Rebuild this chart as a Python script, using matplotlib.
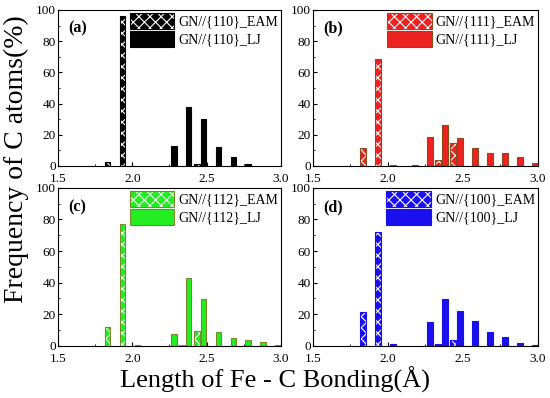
import matplotlib
matplotlib.use('Agg')
import matplotlib.pyplot as plt
from matplotlib.ticker import MultipleLocator
from matplotlib.patches import Patch
import numpy as np

plt.rcParams.update({'font.family': 'serif',
                     'font.serif': ['Liberation Serif', 'DejaVu Serif'],
                     'hatch.linewidth': 0.8})

# bin centres of the bond length histogram (Angstrom)
bins = [1.85, 1.95, 2.05, 2.15, 2.25, 2.35, 2.45, 2.55, 2.65, 2.75, 2.85, 2.95]

eam_110 = [2.6, 96, 0, 0, 0, 0, 1.5, 0, 0, 0, 0, 0]
lj_110 = [0, 0, 0, 0, 12.8, 38, 30, 12, 6, 1.3, 0, 0]

eam_111 = [11.8, 68.4, 0.5, 0, 0, 3.8, 14.5, 0, 0, 0, 0, 0]
lj_111 = [0, 0, 0, 0.5, 18.8, 26, 18, 11.3, 8.5, 8.1, 6, 2]

eam_112 = [12, 77.3, 0.5, 0, 0, 0.5, 9.1, 0, 0, 0, 0, 0]
lj_112 = [0, 0, 0, 0, 7.8, 42.8, 29.4, 8.9, 4.7, 3.4, 2.3, 0.3]

eam_100 = [21.2, 72.2, 1, 0, 0, 1, 3.6, 0, 0, 0, 0, 0]
lj_100 = [0, 0, 0, 0, 15.3, 29.4, 22.2, 15.7, 8.5, 5.3, 2.1, 0.3]

panels = [
    ('(a)', '{110}', eam_110, lj_110, '#000000', '#000000'),
    ('(b)', '{111}', eam_111, lj_111, '#ee2222', '#8a4a1c'),
    ('(c)', '{112}', eam_112, lj_112, '#22ee22', '#7a8a2a'),
    ('(d)', '{100}', eam_100, lj_100, '#1a10ee', '#1a10ee'),
]

# axes boxes [left, bottom, width, height] in figure fractions
boxes = [
    [0.1055, 0.583, 0.405, 0.392],
    [0.569, 0.583, 0.409, 0.392],
    [0.1055, 0.131, 0.405, 0.397],
    [0.569, 0.131, 0.409, 0.397],
]

fig = plt.figure(figsize=(5.5, 3.98), dpi=100)
w = 0.036

for (tag, plane, eam, lj, fc, ec), box in zip(panels, boxes):
    ax = fig.add_axes(box)
    x = np.array(bins)
    eam = np.array(eam, dtype=float)
    lj = np.array(lj, dtype=float)
    m1 = eam > 0
    m2 = lj > 0

    ax.bar(x[m1] - 0.015, eam[m1], width=w, color=fc, edgecolor='white',
           hatch='xxx', linewidth=0, zorder=2)
    ax.bar(x[m1] - 0.015, eam[m1], width=w, fill=False, edgecolor=ec,
           linewidth=0.8, zorder=3)
    ax.bar(x[m2] + 0.03, lj[m2], width=w, color=fc, edgecolor=ec,
           linewidth=0.8, zorder=2)

    # legend patches: hatched fill + outline
    p1 = Patch(facecolor=fc, edgecolor='white', hatch='xxx', linewidth=0)
    p1b = Patch(fill=False, edgecolor=ec, linewidth=0.8)
    p2 = Patch(facecolor=fc, edgecolor=ec, linewidth=0.8)
    ax.legend([(p1, p1b), p2], ['GN//' + plane + '_EAM', 'GN//' + plane + '_LJ'],
              loc='upper right', frameon=False, fontsize=10,
              handlelength=3.2, handleheight=1.4, handletextpad=0.3,
              labelspacing=0.15, borderaxespad=0.1, borderpad=0.1)

    ax.text(0.045, 0.93, tag, transform=ax.transAxes, fontsize=11.5,
            fontweight='bold', va='top', ha='left')

    ax.set_xlim(1.5, 3.0)
    ax.set_ylim(0, 100)
    ax.xaxis.set_major_locator(MultipleLocator(0.5))
    ax.xaxis.set_minor_locator(MultipleLocator(0.25))
    ax.yaxis.set_major_locator(MultipleLocator(20))
    ax.yaxis.set_minor_locator(MultipleLocator(10))
    ax.tick_params(which='both', direction='in', labelsize=9.5)
    ax.tick_params(axis='y', pad=1.5)
    ax.tick_params(axis='x', pad=5)
    ax.tick_params(which='major', length=3)
    ax.tick_params(which='minor', length=1.5)
    ax.xaxis.set_major_formatter(plt.FormatStrFormatter('%.1f'))
    for s in ax.spines.values():
        s.set_linewidth(0.8)

fig.text(0.5, 0.045, 'Length of Fe - C Bonding(Å)', ha='center', va='center',
         fontsize=19)
fig.text(0.03, 0.6, 'Frequency of C atoms(%)', ha='center', va='center',
         rotation=90, fontsize=20)

fig.savefig('out.png', dpi=100)
